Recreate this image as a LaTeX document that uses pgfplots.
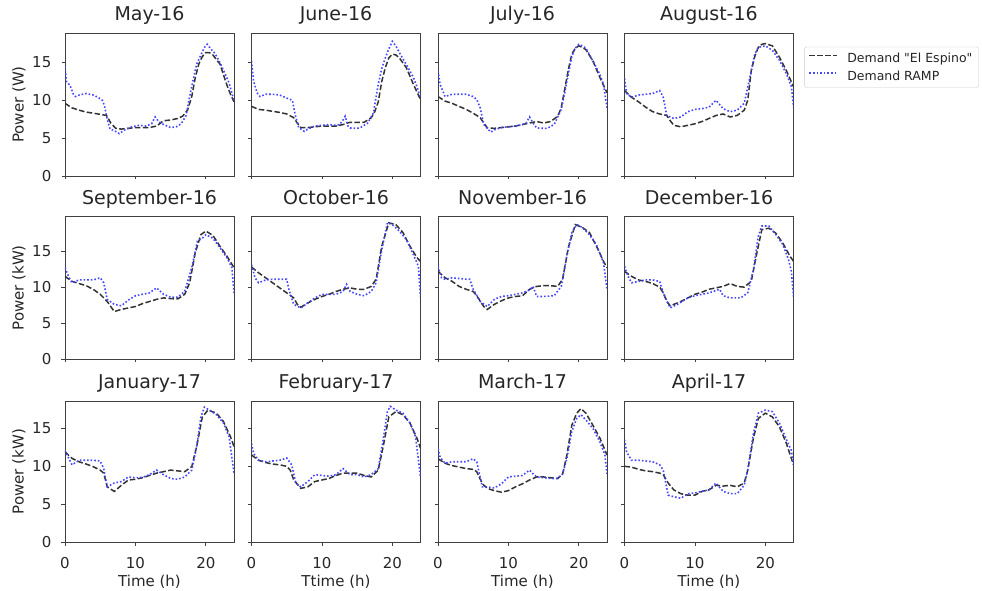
\documentclass[border=0pt]{standalone}
\usepackage{fontspec}
\setmainfont{DejaVu Sans}[Ligatures=TeXOff]
\usepackage{pgfplots}
\pgfplotsset{compat=1.18}
\definecolor{txt}{HTML}{262626}
\definecolor{frame}{HTML}{404040}
\definecolor{ramp}{RGB}{70,70,255}
\tikzset{
  esp/.style={color=black!80, line width=1.5pt, dash pattern=on 5.5pt off 2.4pt},
  ramp/.style={color=ramp, line width=1.6pt, dash pattern=on 1.6pt off 2.0pt}
}
\pgfplotsset{
  panel/.style={
    scale only axis, width=169pt, anchor=south west,
    xmin=0, xmax=24, ymin=0,
    xtick={0,10,20}, ytick={0,5,10,15},
    tick align=outside, xtick pos=bottom, ytick pos=left,
    major tick length=3.5pt,
    axis line style={frame, line width=0.8pt},
    every tick/.style={frame, line width=0.8pt},
    no markers,
    /pgf/number format/assume math mode=true,
    every tick label/.append style={font=\fontsize{15}{18}\selectfont, text=txt, inner sep=0pt},
    xticklabel style={anchor=base, yshift=-22.7pt},
    yticklabel style={anchor=east, xshift=-10pt},
    title style={font=\fontsize{19}{22}\selectfont, text=txt, at={(axis description cs:0.5,1)}, anchor=base, yshift=6pt, inner sep=0pt},
    label style={font=\fontsize{15}{18}\selectfont, text=txt},
    ylabel style={at={(axis description cs:-0.272,0.5)}, anchor=center},
  },
  row1/.style={height=143pt, ymax=18.9},
  row2/.style={height=142.3pt, ymax=19.8},
  row3/.style={height=141.3pt, ymax=18.6, xlabel style={at={(axis description cs:0.5,-0.311)}, anchor=base}},
  nox/.style={xticklabels={}},
  noy/.style={yticklabels={}},
}
\begin{document}
\begin{tikzpicture}
\useasboundingbox (0pt,0pt) rectangle (982pt,591pt);

% ---------- Row 1 ----------
\begin{axis}[panel,row1,nox,at={(65pt,415pt)},title={May-16},ylabel={Power (W)}]
\addplot[esp] coordinates {(0,9.6)(1,9.0)(2,8.7)(3,8.45)(4,8.3)(5,8.15)(5.9,8.0)(6.5,7.0)(7.2,6.3)(8,6.2)(9,6.3)(10,6.4)(11,6.4)(12,6.4)(13,6.6)(14,7.3)(15,7.4)(16,7.6)(16.7,7.9)(17.4,8.7)(18,10.5)(18.5,13)(19,14.8)(19.5,15.8)(20,16.3)(20.5,16.3)(21,16.0)(22,14.8)(23,12.0)(23.5,10.8)(24,9.8)};
\addplot[ramp] coordinates {(0,14.5)(0.2,12.5)(0.7,12.0)(1.2,10.8)(1.5,10.5)(2,10.7)(3,10.9)(4,10.7)(4.7,10.4)(5.3,10.0)(5.6,9.3)(6,7.5)(6.4,6.2)(7,6.0)(7.7,5.6)(8.5,6.1)(9.5,6.5)(10.5,6.7)(11.5,6.6)(12.3,6.9)(12.8,7.8)(13.3,7.2)(14,6.8)(15,6.4)(15.8,6.5)(16.5,6.9)(17.2,8.0)(17.7,10.5)(18.2,12.7)(18.7,14.8)(19.2,15.8)(19.8,17.0)(20.2,17.4)(20.7,16.8)(21.3,16.2)(22,15.0)(22.7,13.6)(23.3,12.3)(24,10.0)};
\end{axis}

\begin{axis}[panel,row1,nox,noy,at={(251.5pt,415pt)},title={June-16}]
\addplot[esp] coordinates {(0,9.2)(1,8.8)(2,8.7)(3,8.55)(4,8.4)(5,8.2)(6,7.7)(6.5,7.0)(7,6.4)(8,6.4)(9,6.5)(10,6.6)(11,6.6)(12,6.6)(13,6.8)(14,7.1)(15,7.1)(16,7.1)(17,7.7)(17.5,8.5)(18,9.8)(18.5,12.5)(19,14.3)(19.5,15.6)(20,16.1)(20.5,16.0)(21,15.6)(22,14.3)(23,12.1)(24,10.1)};
\addplot[ramp] coordinates {(0,15.2)(0.3,12.5)(0.8,11.0)(1.2,10.5)(2,10.8)(3,10.8)(4,10.7)(5,10.3)(5.8,10.0)(6.2,8.1)(6.7,6.4)(7.5,5.9)(8,6.2)(9,6.6)(10,6.7)(11,6.8)(12,6.7)(12.5,6.8)(13,7.4)(13.3,7.9)(13.7,6.6)(14,6.35)(15,6.3)(15.5,6.4)(16.5,7.0)(17.3,8.3)(17.7,10.5)(18,12.1)(18.5,14.2)(19,15.6)(19.5,16.8)(20,17.8)(20.5,17.2)(21,16.3)(22,14.7)(23,13.0)(23.5,11.8)(24,10.3)};
\end{axis}

\begin{axis}[panel,row1,nox,noy,at={(438pt,415pt)},title={July-16}]
\addplot[esp] coordinates {(0,10.5)(1,9.9)(2,9.6)(3,9.2)(4,8.8)(5,8.3)(6,7.7)(6.5,7.0)(7,6.35)(8,6.3)(9,6.4)(10,6.5)(11,6.6)(12,6.8)(13,7.0)(14,7.2)(15,7.0)(16,7.2)(17,7.9)(17.5,9.0)(18,11.5)(18.5,14)(19,16.1)(19.5,16.9)(20,17.2)(20.5,17.0)(21,16.7)(22,15.2)(23,13.0)(24,11.0)};
\addplot[ramp] coordinates {(0,13.9)(0.3,12.1)(1,10.5)(2,10.8)(3,10.8)(4,10.8)(5,10.5)(5.5,10.1)(6,9.0)(6.5,6.8)(7.5,5.8)(8,6.1)(9,6.4)(10,6.5)(11,6.6)(12,6.8)(12.5,7.0)(13,7.8)(13.5,7.0)(14,6.35)(15,6.3)(15.5,6.3)(16.5,6.8)(17.5,8.8)(18,11)(18.3,12.5)(19,15.8)(19.5,16.9)(20,17.4)(20.5,17.2)(21,16.9)(22,15.2)(23,13.4)(23.5,12.1)(24,9.0)};
\end{axis}

\begin{axis}[panel,row1,nox,noy,at={(624.5pt,415pt)},title={August-16},
  legend style={at={(axis description cs:1.066,0.902)}, anchor=north west, draw=black!20, fill=white, rounded corners=2pt,
    font=\fontsize{12.5}{15}\selectfont, text=txt, inner xsep=4pt, inner ysep=4pt, outer sep=0pt, row sep=2.5pt, cells={anchor=west}},
  legend image code/.code={\draw[#1] (0pt,0.3em) -- (28pt,0.3em); \path (35pt,0.3em);}]
\addplot[esp] coordinates {(0,11.3)(1,10.4)(2,9.8)(3,9.1)(4,8.5)(5,8.2)(6,8.0)(6.5,7.3)(7,6.7)(8,6.5)(9,6.7)(10,6.9)(11,7.2)(12,7.6)(13,8.0)(14,8.2)(15,7.8)(16,8.0)(17,8.7)(17.5,10.0)(18,13.9)(18.5,15.8)(19,17.0)(19.5,17.4)(20,17.5)(21,17.2)(22,15.7)(23,13.9)(24,11.8)};
\addlegendentry{Demand "El Espino"}
\addplot[ramp] coordinates {(0,12.9)(0.3,10.9)(1,10.4)(2,10.7)(3,10.8)(4,10.9)(5,11.3)(5.5,10.4)(6,8.0)(7,7.6)(8,7.8)(9,8.5)(10,8.8)(11,8.9)(12,9.1)(13,10.0)(14,8.9)(15,8.5)(16,8.7)(17,9.6)(17.7,12.6)(18.5,16.1)(19,17.0)(20,17.2)(21,16.6)(22,15.3)(23,13.5)(23.7,11.8)(24,9.1)};
\addlegendentry{Demand RAMP}
\end{axis}

% ---------- Row 2 ----------
\begin{axis}[panel,row2,nox,at={(65pt,232pt)},title={September-16},ylabel={Power (kW)}]
\addplot[esp] coordinates {(0,11.5)(1,10.8)(2,10.5)(3,10.2)(4,9.7)(5,9.0)(6,8.0)(7,6.6)(8,6.9)(9,7.1)(10,7.3)(11,7.7)(12,8.0)(13,8.3)(14,8.5)(15,8.4)(16,8.35)(17,9.0)(17.7,10.6)(18.5,14.8)(19.3,17.3)(20,17.8)(21,17.2)(22,15.7)(23,14.3)(24,12.7)};
\addplot[ramp] coordinates {(0,12.7)(0.5,11.5)(1,10.6)(2,11.0)(3,11.0)(4,11.0)(5,11.3)(5.5,10.6)(6,8.3)(7,7.6)(8,7.4)(9,8.2)(10,8.8)(11,9.0)(12,9.2)(13,9.9)(14,9.0)(15,8.6)(16,8.6)(17,9.4)(18,12.7)(18.8,16.4)(19.5,16.8)(20,17.3)(21,16.8)(22,15.5)(23,14.1)(23.7,12.7)(24,9.2)};
\end{axis}

\begin{axis}[panel,row2,nox,noy,at={(251.5pt,232pt)},title={October-16}]
\addplot[esp] coordinates {(0,12.8)(1,12.0)(2,11.3)(3,10.6)(4,9.9)(5,9.2)(6,8.5)(6.5,7.6)(7,7.2)(8,7.8)(9,8.3)(10,8.7)(11,9.0)(12,9.4)(13,9.7)(14,9.9)(15,9.7)(16,9.7)(17,10.1)(17.7,11.1)(18.5,15.7)(19.5,18.95)(20.5,18.7)(21.5,17.6)(22.5,15.7)(23.5,14.1)(24,13.6)};
\addplot[ramp] coordinates {(0,13.1)(0.5,11.3)(1,10.6)(2,11.0)(3,11.1)(4,11.1)(5,11.1)(5.3,9.7)(6,7.6)(7,7.1)(8,7.8)(9,8.5)(10,9.0)(11,9.0)(12,9.0)(13,9.4)(13.5,10.4)(14,9.4)(15,9.0)(16,8.8)(17,9.4)(17.7,10.6)(18.5,15.2)(19.3,18.95)(20,18.7)(21,17.8)(22,16.6)(23,14.5)(23.7,12.9)(24,8.7)};
\end{axis}

\begin{axis}[panel,row2,nox,noy,at={(438pt,232pt)},title={November-16}]
\addplot[esp] coordinates {(0,12.2)(1,11.3)(2,10.8)(3,10.1)(4,9.7)(5,9.4)(5.5,8.8)(6.5,7.3)(7,6.9)(8,7.6)(9,8.1)(10,8.5)(11,8.7)(12,8.8)(13,9.7)(14,10.1)(15,10.2)(16,10.2)(17,10.1)(17.7,11.1)(18.5,15.5)(19.5,18.7)(20.5,18.3)(21.5,17.6)(22.5,15.7)(23.5,13.6)(24,12.7)};
\addplot[ramp] coordinates {(0,12.9)(0.5,11.3)(1,11.1)(2,11.3)(3,11.2)(4,11.1)(4.5,11.1)(5,9.7)(6,8.0)(7,7.3)(8,8.3)(9,8.7)(10,8.8)(11,9.0)(12,9.2)(13,9.6)(13.5,10.1)(14,8.7)(15,8.7)(16.5,8.8)(17.5,10.1)(18.3,14.3)(19,17.6)(19.7,18.7)(20.5,18.3)(21.5,17.3)(22.5,15.9)(23.5,13.4)(24,9.7)};
\end{axis}

\begin{axis}[panel,row2,nox,noy,at={(624.5pt,232pt)},title={December-16}]
\addplot[esp] coordinates {(0,12.2)(1,11.5)(2,11.0)(3,10.8)(4,10.5)(5,10.0)(5.5,9.2)(6,8.0)(6.5,7.4)(7,7.6)(8,8.0)(9,8.5)(10,9.0)(11,9.3)(12,9.7)(13,9.9)(14,10.1)(15,10.5)(16,10.1)(17,10.0)(18,10.8)(18.7,14.3)(19.5,18.0)(20.5,18.2)(21.5,17.5)(22.5,16.1)(23.5,14.3)(24,13.6)};
\addplot[ramp] coordinates {(0,12.9)(0.5,11.5)(1,10.6)(2,10.8)(3,11.0)(4,11.0)(5,10.8)(5.5,9.2)(6.5,7.1)(7.5,7.6)(8,7.9)(9,8.5)(10,8.8)(11,9.0)(12,9.2)(13.5,9.7)(14,8.8)(15,8.5)(16.5,8.5)(17.5,9.2)(18.3,12.4)(19,17.1)(19.5,18.5)(20.5,18.5)(21.5,17.3)(22.5,15.9)(23.3,13.8)(23.7,12.2)(24,8.7)};
\end{axis}

% ---------- Row 3 ----------
\begin{axis}[panel,row3,at={(65pt,48.7pt)},title={January-17},ylabel={Power (kW)},xlabel={Time (h)}]
\addplot[esp] coordinates {(0,11.9)(1,11.05)(2,10.6)(3,10.3)(4,9.96)(5,9.5)(5.5,9.1)(6,7.3)(7,6.7)(8,7.5)(9,8.2)(10,8.3)(11,8.5)(12,8.8)(13,9.1)(14,9.3)(15,9.5)(16,9.4)(17,9.3)(18,9.96)(18.7,12.6)(19.5,16.5)(20.3,17.4)(21.5,17.0)(22.5,15.9)(23.5,13.9)(24,12.6)};
\addplot[ramp] coordinates {(0,12.1)(0.3,11.5)(1,10.2)(2,10.8)(3,10.8)(4,10.8)(5,10.7)(5.5,9.7)(6,7.3)(7,7.8)(8,8.0)(9,8.6)(10,8.5)(11,8.55)(12,8.9)(13,9.5)(14,8.9)(15,8.4)(16,8.3)(17,8.6)(18,9.5)(18.7,12.6)(19.3,16.5)(19.8,17.8)(20.5,17.4)(21.5,16.8)(22.5,15.7)(23.3,13.9)(24,9.1)};
\end{axis}

\begin{axis}[panel,row3,noy,at={(251.5pt,48.7pt)},title={February-17},xlabel={Ttime (h)}]
\addplot[esp] coordinates {(0,11.5)(1,10.8)(2,10.5)(3,10.3)(4,10.2)(5,10.0)(5.5,9.5)(6,8.2)(7,7.1)(8,7.3)(9,8.0)(10,8.2)(11,8.4)(12,8.8)(13,9.1)(14,9.1)(15,9.1)(16,8.8)(17,8.6)(18,9.5)(18.7,12.6)(19.5,16.5)(20.5,17.2)(21.5,16.8)(22.5,15.7)(23.5,13.7)(24,12.4)};
\addplot[ramp] coordinates {(0,13.0)(0.3,11.7)(1,10.8)(2,10.6)(3,10.7)(4,10.8)(5,11.1)(5.7,10.2)(6.3,7.8)(7,7.3)(8,8.0)(9,8.9)(10,8.8)(11,8.7)(12,8.9)(13,9.7)(14,8.9)(15,8.9)(16,8.6)(17,8.9)(18,9.7)(18.7,13.5)(19.3,17.2)(19.7,17.9)(20.5,17.4)(21.5,17.0)(22.5,15.7)(23.3,13.9)(24,8.6)};
\end{axis}

\begin{axis}[panel,row3,noy,at={(438pt,48.7pt)},title={March-17},xlabel={Time (h)}]
\addplot[esp] coordinates {(0,11.0)(1,10.4)(2,10.1)(3,9.9)(4,9.7)(5,9.6)(5.5,9.3)(6.3,7.7)(7,7.1)(8,6.8)(9,6.6)(10,6.8)(11,7.3)(12,7.7)(13,8.2)(14,8.6)(15,8.6)(16,8.5)(17,8.4)(17.7,9.0)(18.3,11.5)(19,15.4)(19.7,17.0)(20.3,17.6)(21,17.0)(22,15.4)(23,13.7)(24,11.5)};
\addplot[ramp] coordinates {(0,12.35)(0.3,11.2)(1,10.4)(2,10.6)(3,10.6)(4,10.6)(5,11.0)(5.5,10.6)(6.3,7.3)(7,7.3)(8,7.15)(9,7.7)(10,8.6)(11,8.7)(12,8.8)(13,9.5)(13.5,9.0)(14,8.6)(15,8.5)(16,8.4)(17,8.4)(17.7,9.0)(18.3,11.0)(19,14.6)(19.7,16.3)(20.3,16.8)(21,16.1)(22,15.0)(23,13.2)(23.7,11.5)(24,9.0)};
\end{axis}

\begin{axis}[panel,row3,noy,at={(624.5pt,48.7pt)},title={April-17},xlabel={Time (h)}]
\addplot[esp] coordinates {(0,10.0)(1,9.9)(2,9.6)(3,9.4)(4,9.3)(5,9.1)(5.5,8.9)(6.2,7.8)(7,6.9)(8,6.4)(9,6.2)(10,6.2)(11,6.7)(12,6.9)(13,7.5)(14,7.4)(15,7.5)(16,7.3)(17,7.8)(17.5,9.5)(18.3,13.7)(19,16.3)(20,17.0)(21,16.5)(22,15.2)(23,13.0)(24,10.2)};
\addplot[ramp] coordinates {(0,13.5)(0.3,11.9)(1,10.8)(2,10.8)(3,10.7)(4,10.6)(5,10.2)(5.5,9.5)(6.2,6.2)(7,6.0)(8,5.8)(9,6.4)(10,6.5)(11,6.7)(12,6.9)(13,7.8)(14,6.7)(15,6.4)(16,6.4)(17,7.5)(17.5,9.5)(18.3,14.3)(19,17.0)(20,17.4)(21,17.2)(22,15.7)(23,13.5)(23.7,12.1)(24,10.2)};
\end{axis}
\end{tikzpicture}
\end{document}
